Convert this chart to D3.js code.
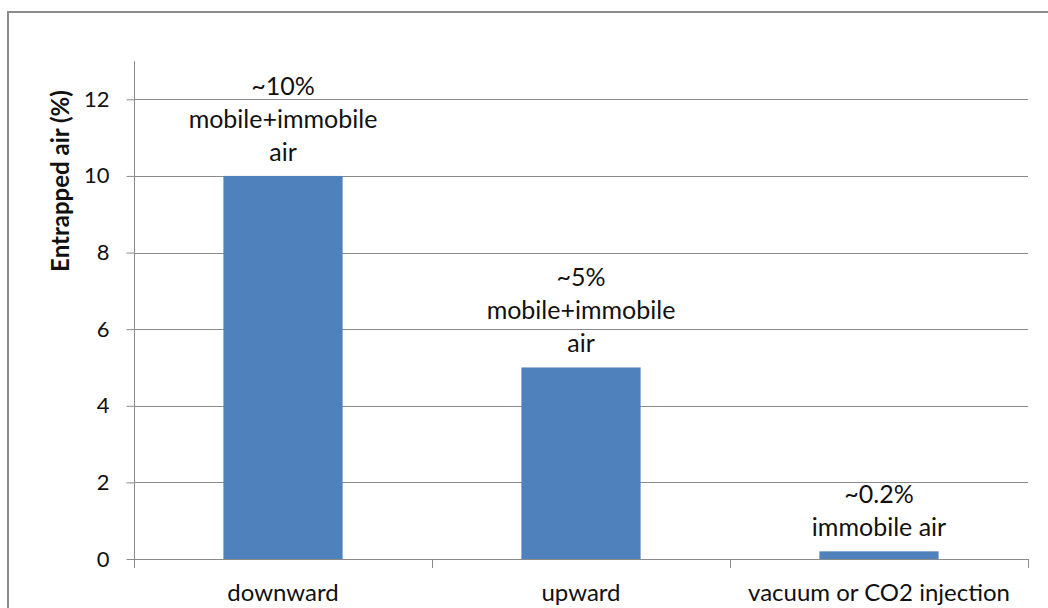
<!DOCTYPE html>
<html><head><meta charset="utf-8">
<script src="https://cdn.jsdelivr.net/npm/d3@7"></script>
<style>
html,body{margin:0;padding:0;background:#fff;}
svg{display:block;}
text{font-family:Lato,"Open Sans",sans-serif;fill:#111;}
</style></head><body>
<svg id="chart" width="1048" height="608"></svg>
<script>
const categories = ["downward", "upward", "vacuum or CO2 injection"];
const values = [10, 5, 0.2];
const barLabels = [["~10%", "mobile+immobile", "air"], ["~5%", "mobile+immobile", "air"], ["~0.2%", "immobile air"]];
const yTicks = [0, 2, 4, 6, 8, 10, 12];
const yTitle = "Entrapped air (%)";

const svg = d3.select("#chart");
const m = {left: 134, top: 61};
const plotR = 1028, plotB = 559;

svg.append("rect").attr("x", 8).attr("y", 12).attr("width", 1046).attr("height", 620)
  .attr("fill", "none").attr("stroke", "#8c8c8c").attr("stroke-width", 2);

const x = d3.scaleBand().domain(categories).range([m.left, plotR]).padding(0);
const y = d3.scaleLinear().domain([0, 13]).range([plotB, m.top]);

const grid = "#8a8a8a";
svg.append("g").selectAll("line").data(yTicks.filter(d => d > 0)).join("line")
  .attr("x1", m.left).attr("x2", plotR)
  .attr("y1", d => Math.round(y(d)) + 0.5).attr("y2", d => Math.round(y(d)) + 0.5)
  .attr("stroke", grid).attr("stroke-width", 1);

const yAxis = svg.append("g").attr("transform", `translate(${m.left + 0.5},0)`)
  .call(d3.axisLeft(y).tickValues(yTicks).tickSize(8).tickPadding(17).tickFormat(d3.format("d")));
yAxis.select(".domain").attr("stroke", grid).attr("d", `M0,${m.top}V${plotB}`);
yAxis.selectAll(".tick line").attr("stroke", grid);
yAxis.selectAll(".tick text").style("font-size", "22px").style("font-family", "Lato, sans-serif").attr("fill", "#111");

const bw = x.bandwidth() * 0.4;
svg.append("g").selectAll("rect").data(values).join("rect")
  .attr("x", (d, i) => x(categories[i]) + x.bandwidth() / 2 - bw / 2)
  .attr("width", bw)
  .attr("y", d => y(d))
  .attr("height", d => plotB - y(d))
  .attr("fill", "#4f81bd");

const xAxis = svg.append("g").attr("transform", `translate(0,${plotB + 0.5})`)
  .call(d3.axisBottom(x).tickSize(0));
xAxis.select(".domain").attr("stroke", grid).attr("d", `M${m.left},0H${plotR}`);
xAxis.selectAll(".tick text").attr("y", 41).attr("dy", null)
  .style("font-size", "24px").style("font-family", "Lato, sans-serif").attr("fill", "#111");
const bounds = categories.map(c => x(c)).concat([plotR]);
svg.append("g").selectAll("line").data(bounds).join("line")
  .attr("x1", d => Math.round(d) + 0.5).attr("x2", d => Math.round(d) + 0.5)
  .attr("y1", plotB).attr("y2", plotB + 9)
  .attr("stroke", grid);

const lh = 33;
values.forEach((v, i) => {
  const lines = barLabels[i];
  const cx = x(categories[i]) + x.bandwidth() / 2;
  const base = y(v) - 15;
  const g = svg.append("text").attr("text-anchor", "middle").style("font-size", "25px");
  lines.forEach((t, j) => {
    g.append("tspan").attr("x", cx).attr("y", base - (lines.length - 1 - j) * lh).text(t);
  });
});

svg.append("text").attr("transform", `translate(69,181) rotate(-90)`)
  .attr("text-anchor", "middle").style("font-size", "24px").style("font-weight", "bold").text(yTitle);
</script>
</body></html>
